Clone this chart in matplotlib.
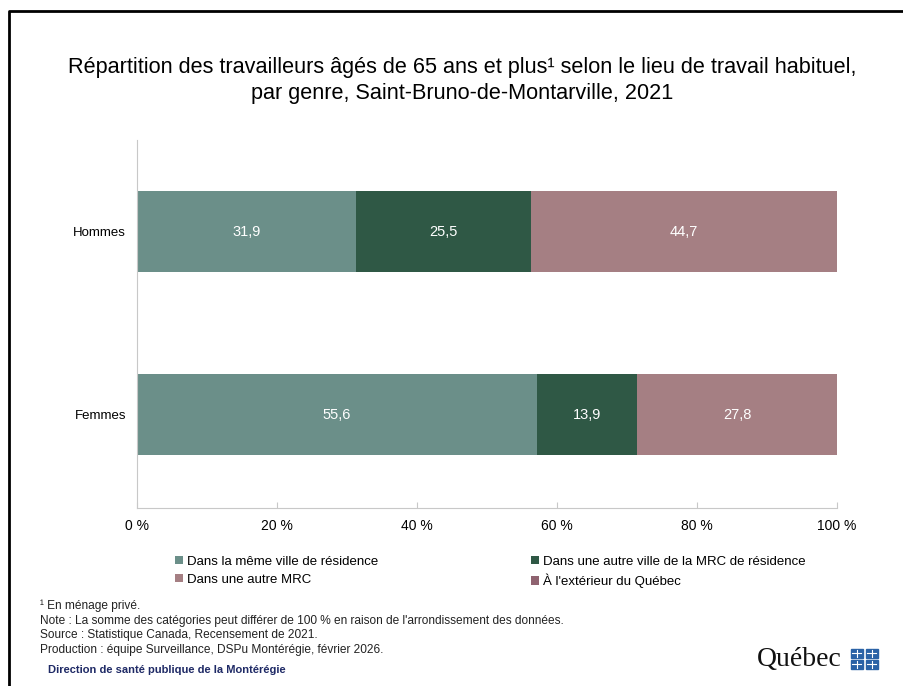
import numpy as np
import matplotlib
matplotlib.use("Agg")
import matplotlib.pyplot as plt
from matplotlib.patches import Rectangle
from matplotlib.lines import Line2D

# donnees
genres = ["Femmes", "Hommes"]
categories = [
    "Dans la même ville de résidence",
    "Dans une autre ville de la MRC de résidence",
    "Dans une autre MRC",
    "À l'extérieur du Québec",
]
valeurs = {
    "Dans la même ville de résidence": [55.6, 31.9],
    "Dans une autre ville de la MRC de résidence": [13.9, 25.5],
    "Dans une autre MRC": [27.8, 44.7],
    "À l'extérieur du Québec": [0.0, 0.0],
}
couleurs = ["#6b8f89", "#2f5845", "#a57f83", "#8f6370"]
ticks_x = [0, 20, 40, 60, 80, 100]

plt.rcParams["font.family"] = ["Liberation Sans", "DejaVu Sans"]

fig = plt.figure(figsize=(9.04, 6.86), dpi=100)
ax = fig.add_axes([137 / 904, 1 - 508 / 686, 700 / 904, 368 / 686])

data = np.array([valeurs[c] for c in categories])
totaux = data.sum(axis=0)
pct = data / totaux * 100

y = np.arange(len(genres))
gauche = np.zeros(len(genres))
for i, cat in enumerate(categories):
    bars = ax.barh(y, pct[i], left=gauche, height=0.44, color=couleurs[i],
                   label=cat, edgecolor="none")
    for j, b in enumerate(bars):
        v = data[i, j]
        if v > 0:
            ax.text(gauche[j] + pct[i, j] / 2, y[j], f"{v:.1f}".replace(".", ","),
                    ha="center", va="center", color="white", fontsize=10.5)
    gauche += pct[i]

ax.set_xlim(0, 100)
ax.set_ylim(-0.51, 1.50)
ax.set_yticks(y)
ax.set_yticklabels(genres, fontsize=9.5)
ax.set_xticks(ticks_x)
ax.set_xticklabels([f"{t} %" for t in ticks_x], fontsize=10)
for s in ["top", "right"]:
    ax.spines[s].set_visible(False)
ax.spines["left"].set_color("#c8c8c8")
ax.spines["bottom"].set_color("#c8c8c8")
ax.tick_params(axis="y", length=0, pad=8)
ax.tick_params(axis="x", length=4, color="#c8c8c8", direction="in", pad=8)

fig.text(462 / 904, 1 - 68 / 686, "Répartition des travailleurs âgés de 65 ans et plus¹ selon le lieu de travail habituel,",
         ha="center", va="center", fontsize=15.6)
fig.text(462 / 904, 1 - 93 / 686, "par genre, Saint-Bruno-de-Montarville, 2021",
         ha="center", va="center", fontsize=15.6)

# legende (ordre par ligne)
handles, labels = ax.get_legend_handles_labels()
ordre = [0, 2, 1, 3]
leg = fig.legend([handles[k] for k in ordre], [labels[k] for k in ordre], ncol=2,
                 loc="upper left", bbox_to_anchor=(163 / 904, 1 - 544 / 686),
                 frameon=False, fontsize=9.5, handlelength=0.6, handleheight=0.6,
                 handletextpad=0.3, columnspacing=11.6, labelspacing=0.45)

notes = [
    "¹ En ménage privé.",
    "Note : La somme des catégories peut différer de 100 % en raison de l'arrondissement des données.",
    "Source : Statistique Canada, Recensement de 2021.",
    "Production : équipe Surveillance, DSPu Montérégie, février 2026.",
]
for k, n in enumerate(notes):
    fig.text(40 / 904, 1 - (606 + k * 14.7) / 686, n, ha="left", va="center",
             fontsize=8.6, color="#222222")
fig.text(48 / 904, 1 - 670 / 686, "Direction de santé publique de la Montérégie",
         ha="left", va="center", fontsize=8, fontweight="bold", color="#1f2a66")

# logo
fig.text(757 / 904, 1 - 659 / 686, "Québec", ha="left", va="center",
         fontsize=20, family=["Liberation Serif", "DejaVu Serif"], color="#111111")
for cx, cy in [(851, 653), (866, 653), (851, 664), (866, 664)]:
    fig.patches.append(Rectangle((cx / 904, 1 - (cy + 4.5) / 686), 12 / 904, 9 / 686,
                                 transform=fig.transFigure, color="#2a62a6"))
    fig.lines.append(Line2D([(cx + 6) / 904] * 2, [1 - (cy + 3.5) / 686, 1 - (cy - 3.5) / 686],
                            transform=fig.transFigure, color="white", lw=0.8))
    fig.lines.append(Line2D([(cx + 1.5) / 904, (cx + 10.5) / 904], [1 - cy / 686] * 2,
                            transform=fig.transFigure, color="white", lw=0.8))

# cadre
fig.lines.append(Line2D([9 / 904, 9 / 904, 904 / 904], [0, 1 - 11 / 686, 1 - 11 / 686],
                        transform=fig.transFigure, color="black", lw=2))

fig.savefig("out.png", dpi=100)
